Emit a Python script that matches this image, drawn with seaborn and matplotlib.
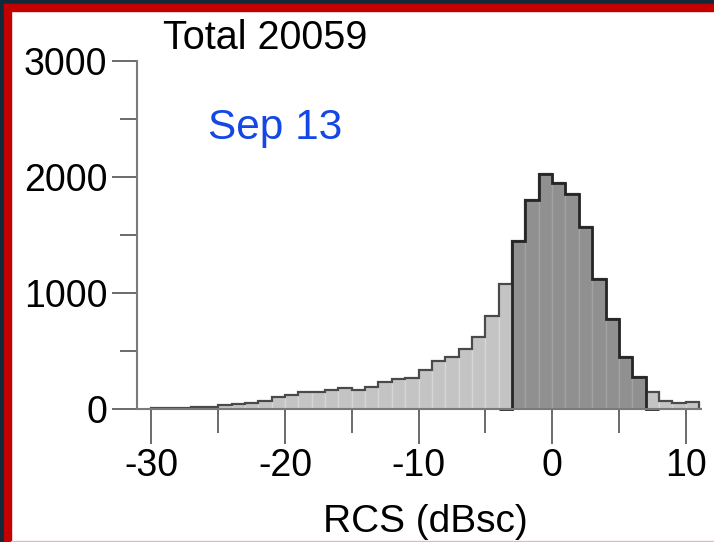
import numpy as np
import pandas as pd
import matplotlib
matplotlib.use("Agg")
import matplotlib.pyplot as plt
from matplotlib.patches import Rectangle
import seaborn as sns

# RCS histogram, 1 dB bins from -30 to 11 dBsc
bin_left = list(range(-30, 11))
counts = [7, 9, 11, 13, 17, 35, 41, 55, 72, 106,
          119, 148, 145, 165, 179, 165, 193, 229, 258, 271,
          332, 416, 447, 516, 624, 802, 1077, 1450, 1806, 2023,
          1949, 1857, 1566, 1117, 775, 452, 280, 145, 73, 50, 64]
core_range = (-3, 7)          # highlighted core of the distribution
total_label = "Total 20059"
date_label = "Sep 13"
x_major = [-30, -20, -10, 0, 10]
x_major_labels = ["-30", "-20", "-10", "0", "10"]
x_minor = [-25, -15, -5, 5]
y_major = [0, 1000, 2000, 3000]
y_minor = [500, 1500, 2500]

sns.set_style("white")
plt.rcParams["font.family"] = ["Liberation Sans", "DejaVu Sans"]

W, H = 714, 542
fig = plt.figure(figsize=(W / 100, H / 100), dpi=100)
fig.patch.set_facecolor("white")

# slide frame: dark strip plus red border on the top and left
navy, red = "#12293a", "#c20000"
fig.patches.append(Rectangle((0, 1 - 4 / H), 1, 4 / H, transform=fig.transFigure,
                             color=navy, zorder=0))
fig.patches.append(Rectangle((0, 0), 4 / W, 1, transform=fig.transFigure,
                             color=navy, zorder=0))
fig.patches.append(Rectangle((4 / W, 1 - 11 / H), 1, 7 / H, transform=fig.transFigure,
                             color=red, zorder=0))
fig.patches.append(Rectangle((4 / W, 0), 7 / W, 1 - 4 / H, transform=fig.transFigure,
                             color=red, zorder=0))
fig.patches.append(Rectangle((11 / W, 0), 1, 1.2 / H, transform=fig.transFigure,
                             color="#f0b4b4", zorder=0))

ax = fig.add_axes([137 / W, (H - 409) / H, (701 - 137) / W, (409 - 61) / H])
ax.set_facecolor("white")

edges = np.arange(bin_left[0], bin_left[-1] + 2)
centers = np.array(bin_left) + 0.5
values = np.array(counts, dtype=float)
df = pd.DataFrame({"rcs": centers, "n": values})

lo, hi = core_range
core = df[(df["rcs"] > lo) & (df["rcs"] < hi)]

light_fill, light_sep, light_line = "#c4c4c4", "#d6d6d6", "#4a4a4a"
dark_fill, dark_sep, dark_line = "#909090", "#a2a2a2", "#262626"

# full distribution
sns.histplot(data=df, x="rcs", weights="n", bins=list(edges), element="bars",
             color=light_fill, edgecolor=light_sep, linewidth=1.0, alpha=1,
             ax=ax, zorder=2)
ax.stairs(values, edges, baseline=0, fill=False, color=light_line,
          linewidth=1.6, zorder=3, clip_on=False)

# core part, drawn over the full distribution
sns.histplot(data=core, x="rcs", weights="n", bins=list(range(lo, hi + 1)),
             element="bars", color=dark_fill, edgecolor=dark_sep,
             linewidth=1.0, alpha=1, ax=ax, zorder=4)
core_edges = np.arange(lo - 1, hi + 2)
core_vals = [0.0] + list(core["n"]) + [0.0]
ax.stairs(core_vals, core_edges, baseline=0, fill=False, color=dark_line,
          linewidth=2.0, zorder=5, clip_on=False)

ax.set_xlim(-31.08, 11.15)
ax.set_ylim(0, 3000)
ax.set_xlabel("")
ax.set_ylabel("")

for side in ["top", "right"]:
    ax.spines[side].set_visible(False)
for side in ["left", "bottom"]:
    ax.spines[side].set_color("#7a7a7a")
    ax.spines[side].set_linewidth(1.5)
    ax.spines[side].set_zorder(6)

ax.set_xticks(x_major)
ax.set_xticklabels(x_major_labels)
ax.set_xticks(x_minor, minor=True)
ax.set_yticks(y_major)
ax.set_yticklabels([str(v) for v in y_major])
ax.set_yticks(y_minor, minor=True)

tick_color = "#6a6a6a"
ax.tick_params(axis="x", which="major", direction="out", length=25, width=1.4,
               color=tick_color, pad=3, labelsize=27, labelcolor="black")
ax.tick_params(axis="x", which="minor", direction="out", length=17, width=1.4,
               color=tick_color)
ax.tick_params(axis="y", which="major", direction="out", length=18, width=1.4,
               color=tick_color, pad=3.5, labelsize=27, labelcolor="black")
ax.tick_params(axis="y", which="minor", direction="out", length=12, width=1.4,
               color=tick_color)
ax.tick_params(bottom=True, left=True, which="both")

fig.text(163 / W, 1 - 49 / H, total_label, fontsize=28.5, color="black",
         ha="left", va="baseline")
fig.text(208 / W, 1 - 139 / H, date_label, fontsize=30.5, color="#1447e6",
         ha="left", va="baseline")
fig.text(425 / W, 1 - 532 / H, "RCS (dBsc)", fontsize=28, color="black",
         ha="center", va="baseline")

fig.savefig("out.png", dpi=100, facecolor=fig.get_facecolor())
